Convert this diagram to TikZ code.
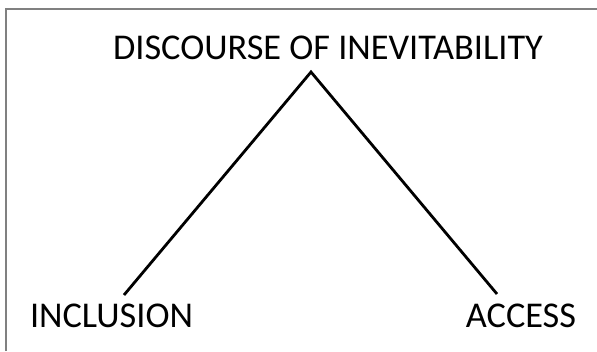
\documentclass[tikz,border=0pt]{standalone}
\usepackage{fontspec}
\setmainfont{Carlito}
\begin{document}
\begin{tikzpicture}[x=1pt,y=-1pt,
  lbl/.style={font=\fontsize{36.3}{40}\selectfont, inner sep=0pt, anchor=base},
  conn/.style={line width=2.8pt, line join=miter},
  frame/.style={draw=black!50, line width=1.3pt}]
\useasboundingbox (0,0) rectangle (597,351);
\draw[frame] (6,351) -- (6,9) -- (597,9);
\node[lbl] (top) at (328,59) {DISCOURSE OF INEVITABILITY};
\node[lbl] (inc) at (111.5,327) {INCLUSION};
\node[lbl] (acc) at (521,327) {ACCESS};
\coordinate (apex) at (311,72);
\coordinate (lend) at (124,295);
\coordinate (rend) at (497,294);
\draw[conn] (lend) -- (apex) -- (rend);
\end{tikzpicture}
\end{document}
